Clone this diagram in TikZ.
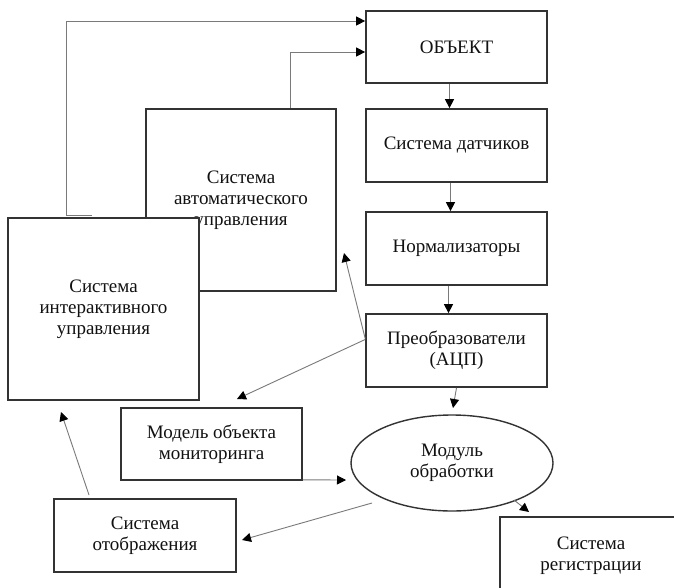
\documentclass[tikz,border=0pt]{standalone}
\usepackage{fontspec}
\setmainfont{Liberation Serif}
\usetikzlibrary{arrows.meta,shapes.geometric,calc}
\definecolor{boxc}{HTML}{333333}
\definecolor{connc}{HTML}{7A7A7A}
\definecolor{txtc}{HTML}{111111}
\tikzset{
  blk/.style={draw=boxc, line width=1.7pt, fill=white, rectangle, inner sep=0pt,
    align=center, text=txtc, font=\fontsize{19}{21}\selectfont},
  oval/.style={blk, ellipse, line width=1.4pt},
  conn/.style={draw=connc, line width=0.9pt, -{Triangle[length=9pt,width=9pt,fill=black,color=black]}},
}
\begin{document}
\begin{tikzpicture}[x=1pt,y=-1pt]
\clip (0,0) rectangle (674,588);
\fill[white] (0,0) rectangle (674,588);
% right column
\node[blk, minimum width=181pt, minimum height=72pt] (obj) at (456.5,47) {ОБЪЕКТ};
\node[blk, minimum width=181pt, minimum height=73pt] (dat) at (456.5,145.5) {Система датчиков};
\node[blk, minimum width=181pt, minimum height=73pt] (norm) at (456.5,248.5) {Нормализаторы};
\node[blk, minimum width=181pt, minimum height=73pt] (preo) at (456.5,350.5) {Преобразователи\\(АЦП)};
\node[oval, minimum width=202pt, minimum height=96pt] (mod) at (452,463) {Модуль\\обработки};
\node[blk, minimum width=182pt, minimum height=78pt] (reg) at (591,556) {Система\\регистрации};
% left part
\node[blk, minimum width=190pt, minimum height=182pt] (auto) at (241,200) {Система\\автоматического\\управления};
\node[blk, minimum width=191pt, minimum height=182pt] (inter) at (103.5,309) {Система\\интерактивного\\управления};
\node[blk, minimum width=181pt, minimum height=72pt] (model) at (211.5,444) {Модель объекта\\мониторинга};
\node[blk, minimum width=182pt, minimum height=73pt] (otob) at (145,535.5) {Система\\отображения};
% free ends
\coordinate (tauto) at (344,253);
\coordinate (tmodel) at (237,399);
\coordinate (tmodl) at (346,480);
\coordinate (smodA) at (372,503);
\coordinate (totob) at (242,540);
\coordinate (sotob) at (89,495);
\coordinate (tinter) at (61,412);
\coordinate (smodB) at (514,500);
\coordinate (treg) at (529,512);
\coordinate (tmod) at (453,408);
% connectors
\draw[conn] ([xshift=85pt,yshift=2pt]inter.north west) -- ([xshift=59pt,yshift=2pt]inter.north west) |- ([yshift=26pt]obj.west);
\draw[conn] ([xshift=145pt]auto.north west) |- ([yshift=-5pt]obj.west);
\draw[conn] ([xshift=-7pt]obj.south) -- ([xshift=-7pt]dat.north);
\draw[conn] ([xshift=-6pt]dat.south) -- ([xshift=-6pt]norm.north);
\draw[conn] ([xshift=-8pt]norm.south) -- ([xshift=-8pt]preo.north);
\draw[conn] ([xshift=0pt]preo.south) -- (tmod);
\draw[conn] ([yshift=12pt]preo.west) -- (tauto);
\draw[conn] ([yshift=11pt]preo.west) -- (tmodel);
\draw[conn] ([yshift=1pt]model.south east) -- (tmodl);
\draw[conn] (smodA) -- (totob);
\draw[conn] (sotob) -- (tinter);
\draw[conn] (smodB) -- (treg);
\end{tikzpicture}
\end{document}
